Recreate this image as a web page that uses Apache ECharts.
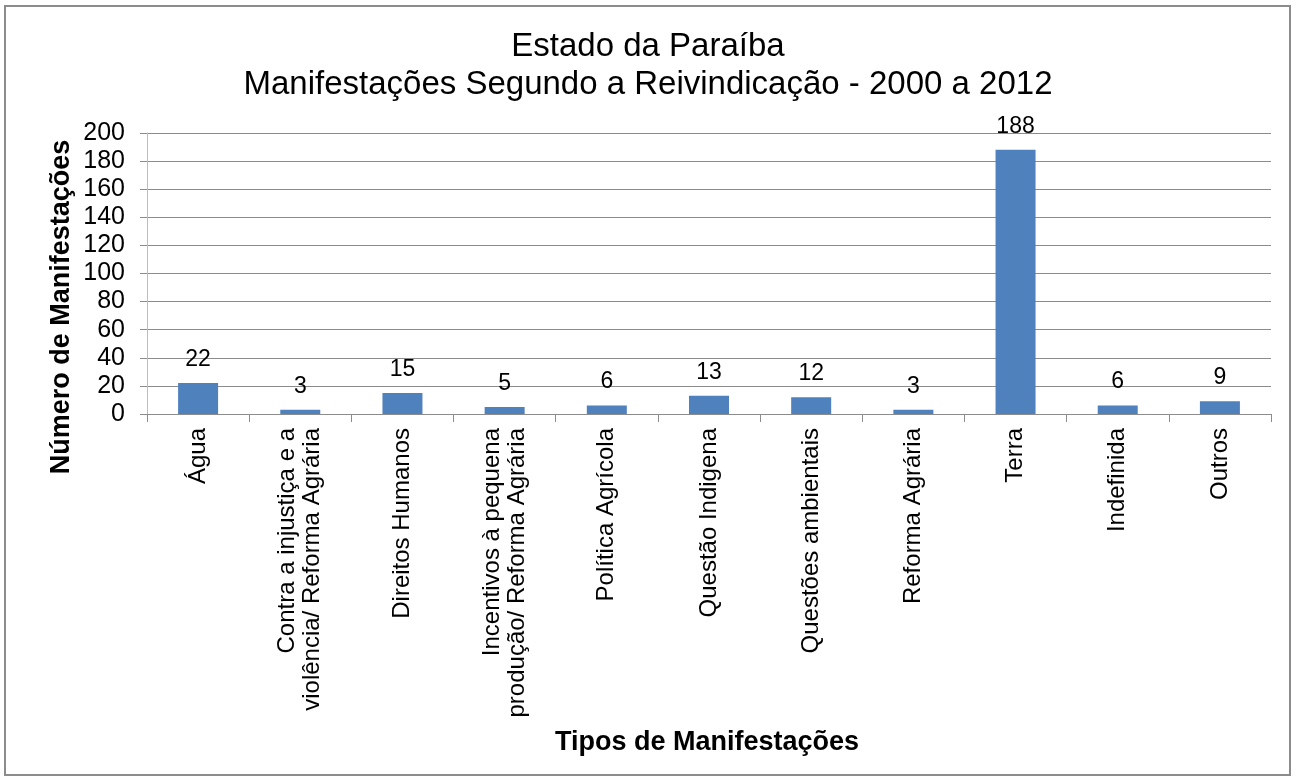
<!DOCTYPE html>
<html>
<head>
<meta charset="utf-8">
<script src="https://cdn.jsdelivr.net/npm/echarts@6/dist/echarts.min.js"></script>
<style>
  html, body { margin: 0; padding: 0; background: #fff; }
  #main { width: 1296px; height: 784px; }
</style>
</head>
<body>
<div id="main"></div>
<script>
// dados
const categorias = [
  "Água",
  "Contra a injustiça e a\nviolência/ Reforma Agrária",
  "Direitos Humanos",
  "Incentivos à pequena\nprodução/ Reforma Agrária",
  "Política Agrícola",
  "Questão Indigena",
  "Questões ambientais",
  "Reforma Agrária",
  "Terra",
  "Indefinida",
  "Outros"
];
const manifestacoes = [22, 3, 15, 5, 6, 13, 12, 3, 188, 6, 9];
const ticksY = [0, 20, 40, 60, 80, 100, 120, 140, 160, 180, 200];

const chart = echarts.init(document.getElementById("main"));
const fonte = "Liberation Sans, Arial, sans-serif";

const option = {
  backgroundColor: "#fff",
  animation: false,
  graphic: [
    {
      type: "rect",
      shape: { x: 5, y: 6, width: 1285, height: 769 },
      style: { fill: "none", stroke: "#8c8c8c", lineWidth: 2 }
    },
    // nomes dos eixos
    {
      type: "text",
      x: 62, y: 307,
      rotation: Math.PI / 2,
      style: {
        text: "Número de Manifestações",
        font: "bold 27px " + fonte,
        fill: "#000",
        align: "center",
        verticalAlign: "middle"
      }
    },
    {
      type: "text",
      x: 707, y: 743,
      style: {
        text: "Tipos de Manifestações",
        font: "bold 27px " + fonte,
        fill: "#000",
        align: "center",
        verticalAlign: "middle"
      }
    }
  ],
  title: {
    text: "Estado da Paraíba\nManifestações Segundo a Reivindicação - 2000 a 2012",
    left: "center",
    top: 23,
    textStyle: { fontFamily: fonte, fontSize: 33, fontWeight: "normal", color: "#000", lineHeight: 38 }
  },
  grid: { left: 147, right: 25, top: 133, bottom: 370 },
  xAxis: {
    type: "category",
    data: categorias,
    axisLine: { lineStyle: { color: "#8c8c8c", width: 1 } },
    axisTick: { show: true, length: 8, lineStyle: { color: "#8c8c8c" } },
    axisLabel: {
      rotate: 90,
      interval: 0,
      margin: 14,
      fontFamily: fonte,
      fontSize: 24,
      color: "#000",
      lineHeight: 25
    }
  },
  yAxis: {
    type: "value",
    min: ticksY[0],
    max: ticksY[ticksY.length - 1],
    interval: ticksY[1] - ticksY[0],
    axisLine: { show: true, lineStyle: { color: "#bdbdbd" } },
    axisTick: { show: true, length: 7, lineStyle: { color: "#8c8c8c" } },
    axisLabel: { fontFamily: fonte, fontSize: 25, color: "#000", margin: 22 },
    splitLine: { lineStyle: { color: "#8c8c8c", width: 1 } }
  },
  series: [{
    type: "bar",
    data: manifestacoes,
    barWidth: 40,
    itemStyle: { color: "#4f81bd" },
    label: {
      show: true,
      position: "top",
      distance: 12,
      fontFamily: fonte,
      fontSize: 23,
      color: "#000"
    }
  }]
};

chart.setOption(option);
</script>
</body>
</html>
